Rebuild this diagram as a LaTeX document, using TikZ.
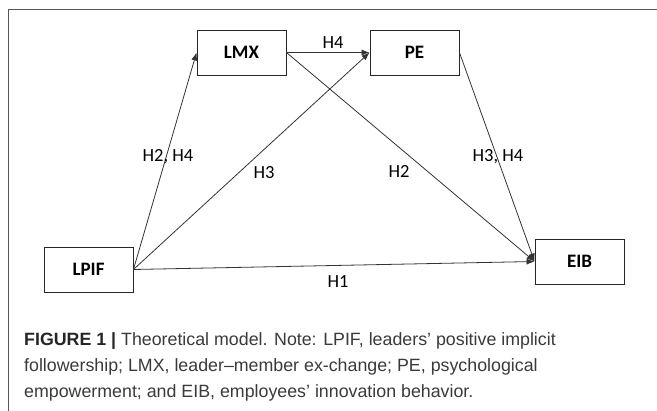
\documentclass[tikz,border=0pt]{standalone}
\usepackage{fontspec}
\setmainfont{Liberation Sans}
\newfontfamily\boxfont{Carlito}
\usetikzlibrary{arrows.meta}
\definecolor{captxt}{HTML}{3A3A3A}
\definecolor{framecol}{HTML}{555555}
\begin{document}
\begin{tikzpicture}[x=1pt,y=-1pt,
  blk/.style={draw=black!85, line width=0.9pt, minimum width=89pt, minimum height=45pt, inner sep=0pt, font=\boxfont\bfseries\fontsize{19}{21}\selectfont},
  conn/.style={draw=black!80, line width=0.8pt, -{Latex[length=8pt,width=6pt]}},
  hlab/.style={font=\boxfont\fontsize{18.5}{20}\selectfont, inner sep=1pt},
  captext/.style={anchor=base west, inner sep=0pt, text=captxt, font=\fontsize{17.8}{21}\selectfont}
]
\useasboundingbox (0,0) rectangle (657,411);
\draw[framecol, line width=1pt] (8,411) -- (8,10) -- (657,10);
\node[blk] (lmx) at (241.5,52.5) {LMX};
\node[blk] (pe) at (414.5,52.5) {PE};
\node[blk] (lpif) at (88.5,269.5) {LPIF};
\node[blk] (eib) at (579.5,261.5) {EIB};
\draw[conn] (lpif.east) -- (lmx.west);
\draw[conn] (lpif.east) -- (pe.west);
\draw[conn] (lpif.east) -- (eib.west);
\draw[conn] (lmx.east) -- (pe.west);
\draw[conn] (lmx.east) -- (eib.west);
\draw[conn] (pe.east) -- (eib.west);
\node[hlab] (h4) at (333,43) {H4};
\node[hlab] (h2h4) at (168,157) {H2, H4};
\node[hlab] (h3) at (264,173) {H3};
\node[hlab] (h2) at (399,172) {H2};
\node[hlab] (h3h4) at (498,157) {H3, H4};
\node[hlab] (h1) at (338,282) {H1};
\node[captext] (c1) at (24,346) {\textbf{\color{black!85}FIGURE 1 |} Theoretical model. Note: LPIF, leaders’ positive implicit};
\node[captext] (c2) at (24,372) {followership; LMX, leader–member ex-change; PE, psychological};
\node[captext] (c3) at (24,398) {empowerment; and EIB, employees’ innovation behavior.};
\end{tikzpicture}
\end{document}
